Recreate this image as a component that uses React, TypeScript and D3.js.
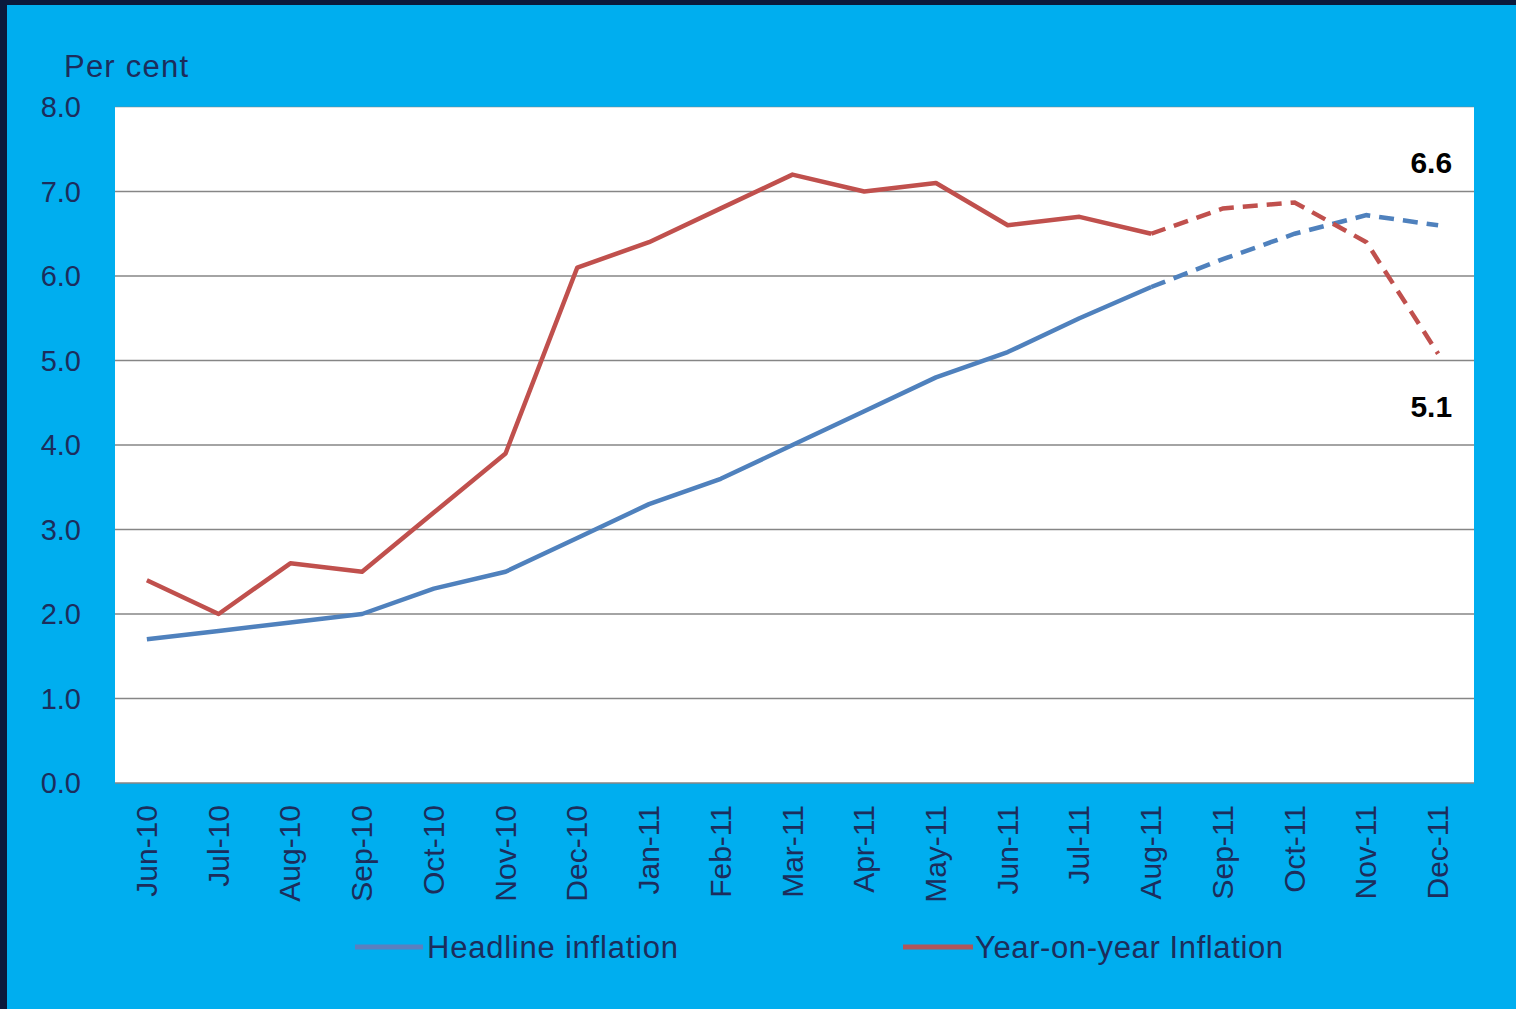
import React from "react";
import * as d3 from "d3";

const categories = ["Jun-10","Jul-10","Aug-10","Sep-10","Oct-10","Nov-10","Dec-10","Jan-11","Feb-11","Mar-11","Apr-11","May-11","Jun-11","Jul-11","Aug-11","Sep-11","Oct-11","Nov-11","Dec-11"];
const headline = [1.7,1.8,1.9,2.0,2.3,2.5,2.9,3.3,3.6,4.0,4.4,4.8,5.1,5.5,5.87,6.2,6.5,6.72,6.6];
const yoy = [2.4,2.0,2.6,2.5,3.2,3.9,6.1,6.4,6.8,7.2,7.0,7.1,6.6,6.7,6.5,6.8,6.87,6.4,5.08];
const actualCount = 15; // solid through Aug-11, dashed forecast afterwards
const yTicks = [0,1,2,3,4,5,6,7,8];
const seriesNames = ["Headline inflation", "Year-on-year Inflation"];
const endLabels = ["6.6", "5.1"];

const W = 1516, H = 1009;
const plot = { left: 115, right: 1474, top: 107, bottom: 783 };
const BLUE = "#4F81BD", RED = "#C0504D", BG = "#00AEEF", TXT = "#1c2d5c";
const FONT = "'Liberation Sans', Arial, sans-serif";

export default function App() {
  const x = d3.scalePoint<string>().domain(categories).range([plot.left - 4, plot.right]).padding(0.5);
  const y = d3.scaleLinear().domain([0, 8]).range([plot.bottom, plot.top]);
  const line = d3.line<[string, number]>().x(d => x(d[0])!).y(d => y(d[1]));
  const pairs = (vals: number[]) => categories.map((c, i) => [c, vals[i]] as [string, number]);
  const solid = (vals: number[]) => line(pairs(vals).slice(0, actualCount))!;
  const dashed = (vals: number[]) => line(pairs(vals).slice(actualCount - 1))!;
  const lastCat = categories[categories.length - 1];

  return (
    <svg width={W} height={H} style={{ position: "absolute", left: 0, top: 0, display: "block" }} fontFamily={FONT}>
      <rect x={0} y={0} width={W} height={H} fill="#0b1a3c" />
      <rect x={7} y={5} width={W - 7} height={H - 5} fill={BG} />
      <rect x={plot.left} y={plot.top} width={plot.right - plot.left} height={plot.bottom - plot.top} fill="#ffffff" />
      {yTicks.map(t => (
        <line key={"g" + t} x1={plot.left} x2={plot.right} y1={y(t)} y2={y(t)} stroke="#868686" strokeWidth={t === 8 ? 1 : 1.6} strokeOpacity={t === 8 ? 0.5 : 1} />
      ))}
      {yTicks.map(t => (
        <text key={"t" + t} x={81} y={y(t)} dy="0.36em" textAnchor="end" fontSize={29} fill={TXT}>{d3.format(".1f")(t)}</text>
      ))}
      <text x={64} y={77} fontSize={31} fill={TXT} textLength={124}>Per cent</text>
      {categories.map(c => (
        <text key={c} transform={`translate(${x(c)! + 10},${plot.bottom + 22}) rotate(-90)`} textAnchor="end" fontSize={30} fill={TXT}>{c}</text>
      ))}
      <path d={solid(headline)} fill="none" stroke={BLUE} strokeWidth={4.5} strokeLinejoin="round" />
      <path d={dashed(headline)} fill="none" stroke={BLUE} strokeWidth={4.5} strokeDasharray="15 9" />
      <path d={solid(yoy)} fill="none" stroke={RED} strokeWidth={4.5} strokeLinejoin="round" />
      <path d={dashed(yoy)} fill="none" stroke={RED} strokeWidth={4.5} strokeDasharray="15 9" />
      <text x={x(lastCat)! + 14} y={y(headline[headline.length - 1]) - 52} textAnchor="end" fontSize={30} fontWeight="bold" fill="#000">{endLabels[0]}</text>
      <text x={x(lastCat)! + 14} y={y(yoy[yoy.length - 1]) + 63} textAnchor="end" fontSize={30} fontWeight="bold" fill="#000">{endLabels[1]}</text>
      <line x1={355} x2={423} y1={947} y2={947} stroke="#5b7fbf" strokeWidth={5} />
      <text x={427} y={958} fontSize={31} fill={TXT} textLength={251}>{seriesNames[0]}</text>
      <line x1={903} x2={973} y1={947} y2={947} stroke="#b0565a" strokeWidth={5} />
      <text x={975} y={958} fontSize={31} fill={TXT} textLength={308}>{seriesNames[1]}</text>
    </svg>
  );
}
